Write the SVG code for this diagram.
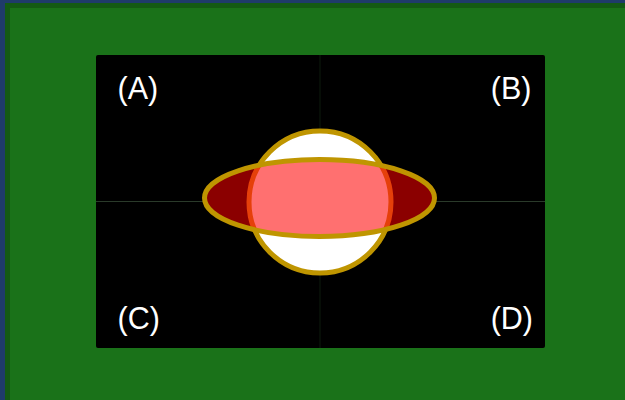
<svg xmlns="http://www.w3.org/2000/svg" width="625" height="400" viewBox="0 0 625 400">
  <style>
    .lbl { font-family: "Liberation Sans", Arial, sans-serif; font-size: 30.5px; fill: #ffffff; }
    .quad { fill: #000000; }
  </style>
  <defs>
    <clipPath id="ellClip">
      <ellipse cx="319.5" cy="198" rx="115" ry="38.5"/>
    </clipPath>
  </defs>
  <rect x="0" y="0" width="625" height="400" fill="#1f3b6b"/>
  <rect x="7.5" y="5.5" width="640" height="410" fill="#1a7219" stroke="#145a14" stroke-width="5"/>
  <g id="board">
    <rect class="quad" x="96" y="55" width="449" height="293" rx="2"/>
    <line x1="320" y1="55" x2="320" y2="348" stroke="#0c1a0c" stroke-width="1"/>
    <line x1="96" y1="201.5" x2="545" y2="201.5" stroke="#2a3a2a" stroke-width="1"/>
  </g>
  <g id="label-A"><text class="lbl" x="117.5" y="99">(A)</text></g>
  <g id="label-B"><text class="lbl" x="531.5" y="99" text-anchor="end">(B)</text></g>
  <g id="label-C"><text class="lbl" x="117.5" y="329" text-anchor="start">(C)</text></g>
  <g id="label-D"><text class="lbl" x="533" y="329" text-anchor="end">(D)</text></g>
  <g id="circle">
    <circle cx="320" cy="202" r="71" fill="#ffffff" stroke="#bf9500" stroke-width="5"/>
  </g>
  <g id="ellipse">
    <ellipse cx="319.5" cy="198" rx="115" ry="38.5" fill="#8b0000"/>
  </g>
  <g id="intersection" clip-path="url(#ellClip)">
    <circle cx="320" cy="202" r="71" fill="#ff7070" stroke="#e5400a" stroke-width="5"/>
  </g>
  <g id="ellipse-outline">
    <ellipse cx="319.5" cy="198" rx="115" ry="38.5" fill="none" stroke="#bf9500" stroke-width="5"/>
  </g>
</svg>
